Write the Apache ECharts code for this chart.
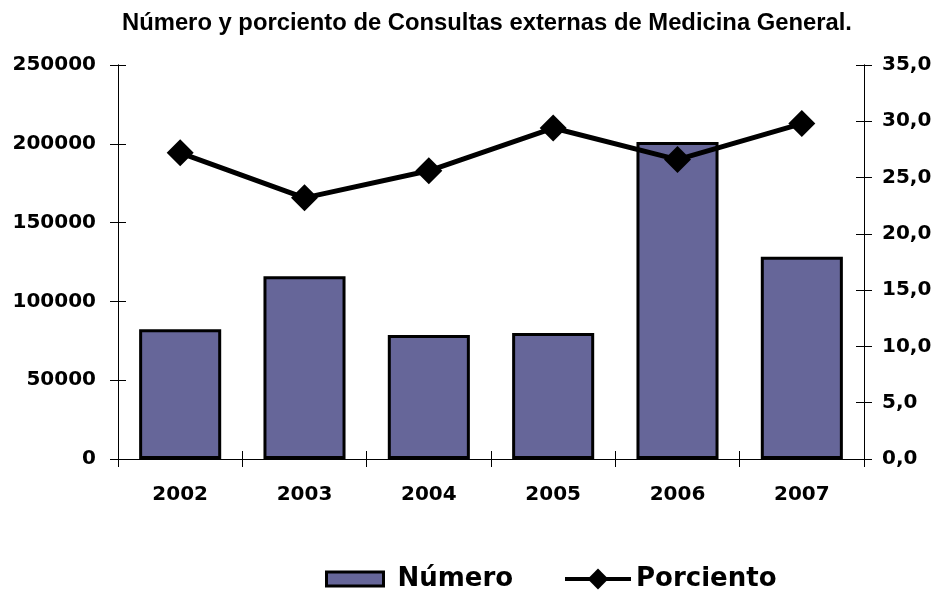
<!DOCTYPE html>
<html>
<head>
<meta charset="utf-8">
<script src="https://cdn.jsdelivr.net/npm/echarts@6/dist/echarts.min.js"></script>
<style>
html, body { margin: 0; padding: 0; background: #fff; }
#box { width: 936px; height: 594px; }
</style>
</head>
<body>
<div id="box"></div>
<script>
var mychart = echarts.init(document.getElementById("box"));

var years = ['2002', '2003', '2004', '2005', '2006', '2007'];
var numero = [82400, 116000, 78700, 80000, 201200, 128400];
var porciento = [27.2, 23.2, 25.6, 29.4, 26.6, 29.8];

var boldFont = 'DejaVu Sans';

// same scale, only drawn to get ticks that cross the axis line
function tickAxis(pos, max, interval) {
    return {
        type: 'value',
        position: pos,
        min: 0,
        max: max,
        interval: interval,
        axisLine: { show: true, lineStyle: { color: '#000', width: 1 } },
        axisTick: { show: true, inside: true, length: 8, lineStyle: { color: '#000' } },
        axisLabel: { show: false },
        splitLine: { show: false }
    };
}

var legendText = {
    fontFamily: boldFont,
    fontWeight: 'bold',
    fontSize: 26,
    color: '#000'
};

var options = {
    animation: false,
    title: {
        text: 'Número y porciento de Consultas externas de Medicina General.',
        left: 117,
        top: 6,
        textStyle: {
            fontFamily: 'Liberation Sans',
            fontWeight: 'bold',
            fontSize: 23.8,
            color: '#000'
        }
    },
    grid: {
        left: 118,
        right: 72,
        top: 65,
        bottom: 135
    },
    legend: [{
        left: 325,
        top: 566,
        padding: 0,
        itemWidth: 57,
        itemHeight: 14,
        textStyle: Object.assign({ padding: [0, 0, 0, 9] }, legendText),
        data: [
            { name: 'Número', icon: 'rect', itemStyle: { color: '#666699', borderColor: '#000', borderWidth: 3 } }
        ]
    }, {
        left: 563,
        top: 566,
        padding: 0,
        itemWidth: 66,
        itemHeight: 26,
        textStyle: legendText,
        data: [
            { name: 'Porciento', lineStyle: { width: 4, color: '#000' }, itemStyle: { color: '#000' } }
        ]
    }],
    xAxis: [{
        type: 'category',
        data: years,
        axisLine: { lineStyle: { color: '#000', width: 1 } },
        axisTick: { show: true, length: 8, lineStyle: { color: '#000' } },
        axisLabel: {
            margin: 26,
            fontFamily: boldFont,
            fontWeight: 'bold',
            fontSize: 20,
            color: '#000'
        },
        splitLine: { show: false }
    }, {
        type: 'category',
        data: years,
        position: 'bottom',
        axisLine: { show: false },
        axisTick: { show: true, inside: true, length: 8, lineStyle: { color: '#000' } },
        axisLabel: { show: false },
        splitLine: { show: false }
    }],
    yAxis: [{
        type: 'value',
        position: 'left',
        min: 0,
        max: 250000,
        interval: 50000,
        axisLine: { show: true, lineStyle: { color: '#000', width: 1 } },
        axisTick: { show: true, length: 8, lineStyle: { color: '#000' } },
        axisLabel: {
            margin: 22,
            fontFamily: boldFont,
            fontWeight: 'bold',
            fontSize: 20,
            color: '#000',
            formatter: function (v) { return String(v); }
        },
        splitLine: { show: false }
    }, {
        type: 'value',
        position: 'right',
        min: 0,
        max: 35,
        interval: 5,
        axisLine: { show: true, lineStyle: { color: '#000', width: 1 } },
        axisTick: { show: true, length: 8, lineStyle: { color: '#000' } },
        axisLabel: {
            margin: 18,
            fontFamily: boldFont,
            fontWeight: 'bold',
            fontSize: 20,
            color: '#000',
            formatter: function (v) { return v.toFixed(1).replace('.', ','); }
        },
        splitLine: { show: false }
    },
        tickAxis('left', 250000, 50000),
        tickAxis('right', 35, 5)
    ],
    series: [{
        name: 'Número',
        type: 'bar',
        yAxisIndex: 0,
        barWidth: '66%',
        itemStyle: {
            color: '#666699',
            borderColor: '#000',
            borderWidth: 3
        },
        data: numero
    }, {
        name: 'Porciento',
        type: 'line',
        yAxisIndex: 1,
        symbol: 'diamond',
        symbolSize: 27,
        lineStyle: { color: '#000', width: 5 },
        itemStyle: { color: '#000' },
        z: 5,
        data: porciento
    }]
};

mychart.setOption(options);
</script>
</body>
</html>
